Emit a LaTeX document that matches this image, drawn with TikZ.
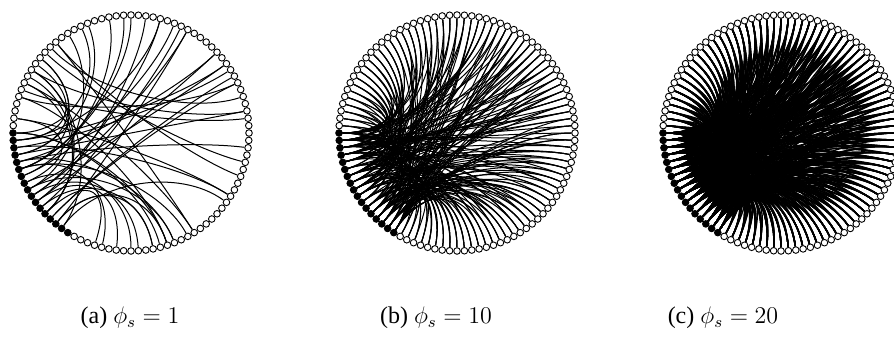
\documentclass[tikz,border=0pt]{standalone}
\usepackage{fontspec}
\setmainfont{Liberation Serif}
\usetikzlibrary{calc,backgrounds}
\tikzset{
  dot/.style={circle,draw=black,fill=white,line width=0.45pt,inner sep=0pt,minimum size=3.3pt},
  seed/.style={dot,fill=black},
  chord/.style={line width=0.5pt},
  caption/.style={font=\fontsize{12}{14}\selectfont}
}
% one curved chord of ring #1, from node #2 to node #3
\newcommand\chord[3]{\draw[chord] (#1#2) .. controls ($(#1#2)!0.5!(#1o)$) and ($(#1#3)!0.5!(#1o)$) .. (#1#3);}
\begin{document}
\begin{tikzpicture}[x=0.5pt,y=0.5pt]
\useasboundingbox (0,0) rectangle (894,337);
\pgfmathsetseed{42}
% rings of nodes, seeds in black
\foreach \c/\cx in {a/131,b/457,c/781}{
  \coordinate (\c o) at (\cx,204);
  \foreach \i in {0,...,16}
    \node[seed] (\c\i) at ($(\c o)+({180+3.6*\i}:118)$) {};
  \foreach \i in {17,...,99}
    \node[dot] (\c\i) at ($(\c o)+({180+3.6*\i}:118)$) {};
}
\begin{pgfonlayer}{background}
  % (a) few links
  \foreach \k in {1,...,45}{
    \pgfmathrandominteger{\i}{17}{99}\pgfmathrandominteger{\j}{0}{16}
    \chord{a}{\i}{\j}}
  \foreach \k in {1,...,10}{
    \pgfmathrandominteger{\i}{85}{99}\pgfmathrandominteger{\j}{25}{60}
    \chord{a}{\i}{\j}}
  % (b) three links per node
  \foreach \i in {17,...,99}{\foreach \k in {1,2,3}{
    \pgfmathrandominteger{\j}{0}{16}\chord{b}{\i}{\j}}}
  % (c) eight links per node, heavier
  \begin{scope}[chord/.style={line width=0.7pt}]
  \foreach \i in {17,...,99}{\foreach \k in {1,...,8}{
    \pgfmathrandominteger{\j}{0}{16}\chord{c}{\i}{\j}}}
  \end{scope}
\end{pgfonlayer}
% captions
\node[caption] (capa) at (130,19) {(a) $\phi_s=1$};
\node[caption] (capb) at (436,19) {(b) $\phi_s=10$};
\node[caption] (capc) at (723,19) {(c) $\phi_s=20$};
\end{tikzpicture}
\end{document}
